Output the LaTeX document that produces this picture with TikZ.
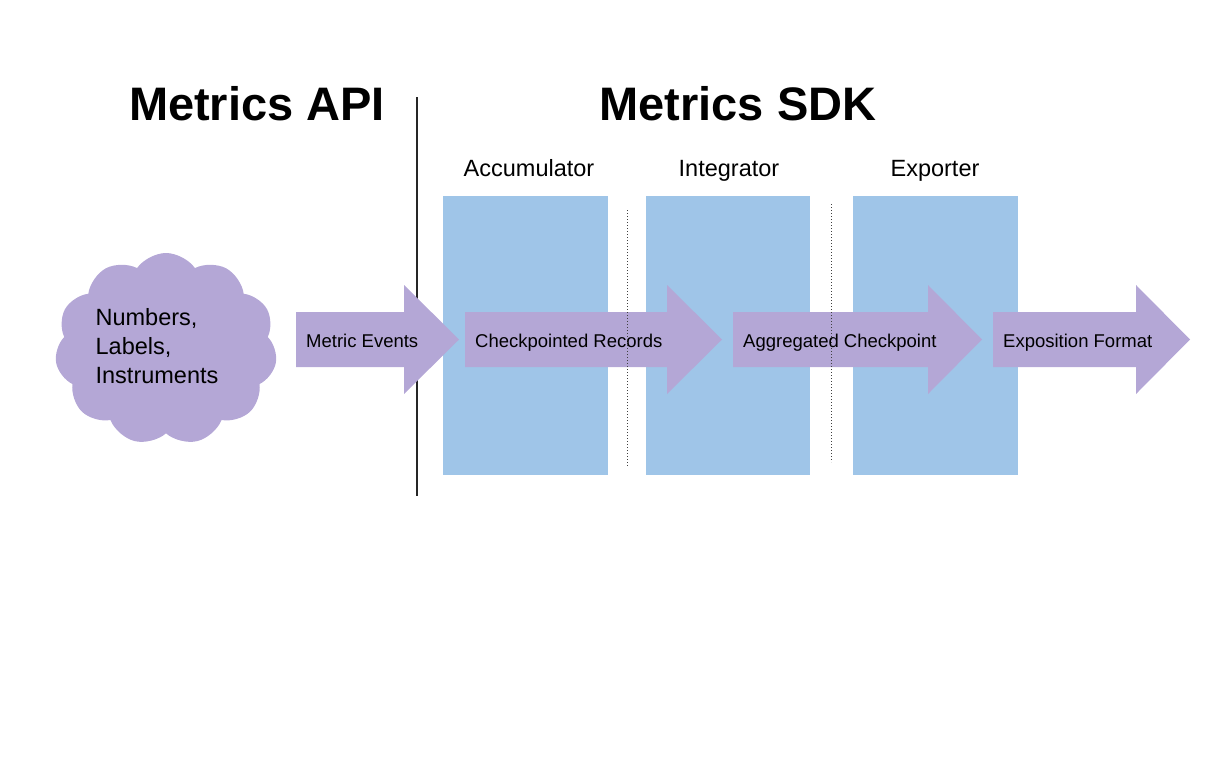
\documentclass[tikz,border=0pt]{standalone}
\usepackage{fontspec}
\setmainfont{Liberation Sans}
\usetikzlibrary{shapes.symbols}
\definecolor{arrowpurple}{HTML}{B4A7D6}
\definecolor{stageblue}{HTML}{9FC5E8}
\tikzset{
  headline/.style={font=\fontsize{47}{56}\selectfont\bfseries, anchor=base, inner sep=0pt},
  stagelabel/.style={font=\fontsize{23.5}{28}\selectfont, anchor=base, inner sep=0pt},
  arrowlabel/.style={font=\fontsize{18.5}{22}\selectfont, anchor=base west, inner sep=0pt},
  divider/.style={line width=0.8pt, black!75, dash pattern=on 1pt off 2pt},
}
% name, start, head base, tip, label
\newcommand\flowarrow[5]{%
  \fill[arrowpurple] (#2,312) -- (#3,312) -- (#3,285) -- (#4,339.5) -- (#3,394) -- (#3,367) -- (#2,367) -- cycle;
  \node[arrowlabel] (#1) at (#2+10,347) {#5};
}
\begin{document}
\begin{tikzpicture}[x=1pt,y=-1pt]
  \useasboundingbox (0,0) rectangle (1223,761);

  %%%%% headings %%%%%
  \node[headline] (api) at (257,120) {Metrics API};
  \node[headline] (sdk) at (738,120) {Metrics SDK};
  \draw[line width=1.2pt, black!85] (417,97) -- (417,496);

  %%%%% stages %%%%%
  \fill[stageblue] (443,196) rectangle (608,475);
  \fill[stageblue] (646,196) rectangle (810,475);
  \fill[stageblue] (853,196) rectangle (1018,475);
  \node[stagelabel] (acc) at (529,176) {Accumulator};
  \node[stagelabel] (integ) at (729,176) {Integrator};
  \node[stagelabel] (exp) at (935,176) {Exporter};

  %%%%% source %%%%%
  \node[cloud, cloud puffs=11, cloud puff arc=110, aspect=1.15, fill=arrowpurple,
        minimum width=222pt, minimum height=192pt] (src) at (166,349) {};
  \node[font=\fontsize{23.5}{29}\selectfont, align=left, inner sep=0pt] (srctext) at (157,346)
    {Numbers,\\Labels,\\Instruments};

  %%%%% arrows %%%%%
  \flowarrow{events}{296}{404}{459}{Metric Events}
  \flowarrow{records}{465}{667}{722}{Checkpointed Records}
  \flowarrow{aggr}{733}{928}{982}{Aggregated Checkpoint}
  \flowarrow{expo}{993}{1136}{1190}{Exposition Format}

  \draw[divider] (627,210) -- (627,467);
  \draw[divider] (831,204) -- (831,462);
\end{tikzpicture}
\end{document}
